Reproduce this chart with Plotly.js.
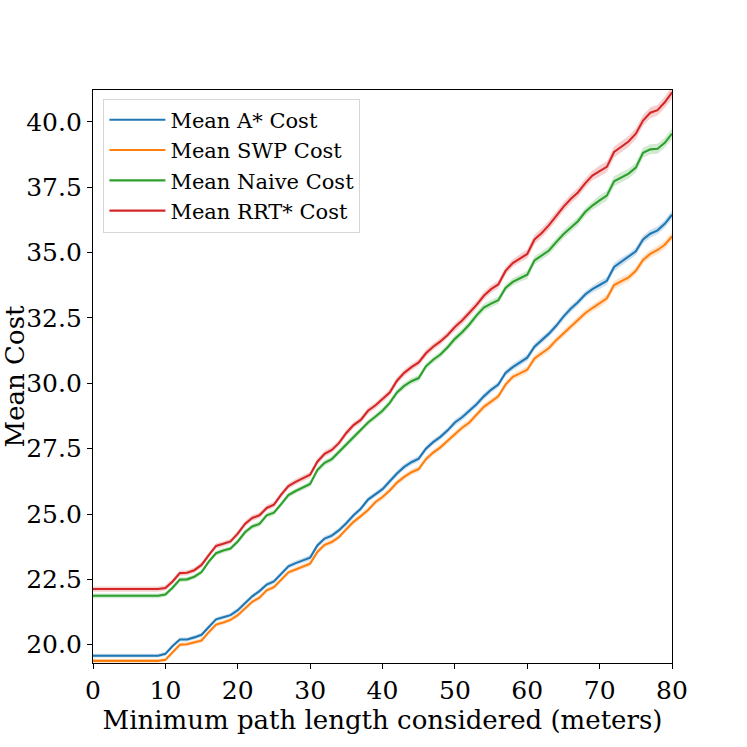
<!DOCTYPE html>
<html>
<head>
<meta charset="utf-8">
<script src="https://cdn.plot.ly/plotly-3.0.1.min.js"></script>
<style>html,body{margin:0;padding:0;background:#fff;}#chart{width:747px;height:747px;}</style>
</head>
<body>
<div id="chart"></div>
<script>
// Minimum path length considered (meters): 0..80
const pathLengths = [0,1,2,3,4,5,6,7,8,9,10,11,12,13,14,15,16,17,18,19,20,21,22,23,24,25,26,27,28,29,30,31,32,33,34,35,36,37,38,39,40,41,42,43,44,45,46,47,48,49,50,51,52,53,54,55,56,57,58,59,60,61,62,63,64,65,66,67,68,69,70,71,72,73,74,75,76,77,78,79,80];

const seriesNames = ["Mean A* Cost", "Mean SWP Cost", "Mean Naive Cost", "Mean RRT* Cost"];

const astarCost = [19.58,19.58,19.58,19.58,19.58,19.58,19.58,19.58,19.58,19.58,
  19.65,19.95,20.2,20.2,20.28,20.38,20.68,20.97,21.05,21.13,
  21.32,21.6,21.85,22.05,22.3,22.42,22.7,23.0,23.12,23.22,
  23.33,23.8,24.06,24.17,24.38,24.65,24.95,25.2,25.55,25.75,
  25.95,26.25,26.55,26.8,26.98,27.12,27.5,27.75,27.95,28.2,
  28.5,28.7,28.95,29.2,29.5,29.75,29.95,30.4,30.62,30.8,
  30.98,31.4,31.65,31.9,32.2,32.55,32.85,33.1,33.4,33.6,
  33.76,33.92,34.45,34.65,34.82,35.05,35.5,35.72,35.85,36.1,36.45];

const swpCost = [19.38,19.38,19.38,19.38,19.38,19.38,19.38,19.38,19.38,19.38,
  19.42,19.72,20.0,20.02,20.08,20.16,20.48,20.77,20.85,20.95,
  21.13,21.38,21.64,21.8,22.08,22.2,22.47,22.77,22.88,22.98,
  23.1,23.55,23.82,23.93,24.12,24.42,24.7,24.92,25.15,25.45,
  25.65,25.9,26.2,26.42,26.6,26.72,27.1,27.35,27.55,27.8,
  28.05,28.3,28.5,28.8,29.1,29.3,29.5,29.95,30.25,30.38,
  30.52,30.95,31.15,31.35,31.65,31.9,32.15,32.42,32.68,32.88,
  33.05,33.25,33.76,33.9,34.05,34.3,34.72,34.95,35.1,35.3,35.62];

const naiveCost = [21.87,21.87,21.87,21.87,21.87,21.87,21.87,21.87,21.87,21.87,
  21.92,22.18,22.49,22.5,22.6,22.78,23.18,23.5,23.6,23.68,
  23.95,24.3,24.52,24.62,24.95,25.05,25.38,25.72,25.88,26.0,
  26.15,26.68,26.96,27.1,27.38,27.68,27.95,28.2,28.5,28.72,
  28.95,29.25,29.65,29.9,30.08,30.2,30.65,30.9,31.1,31.38,
  31.7,31.95,32.25,32.6,32.9,33.05,33.18,33.65,33.88,34.02,
  34.15,34.7,34.88,35.08,35.4,35.7,35.95,36.2,36.55,36.8,
  37.0,37.18,37.73,37.88,38.02,38.25,38.82,38.95,38.97,39.2,39.55];

const rrtCost = [22.13,22.13,22.13,22.13,22.13,22.13,22.13,22.13,22.13,22.13,
  22.17,22.42,22.74,22.75,22.85,23.05,23.43,23.78,23.86,23.95,
  24.25,24.62,24.85,24.95,25.23,25.36,25.74,26.07,26.23,26.36,
  26.5,27.0,27.3,27.45,27.72,28.1,28.4,28.6,28.95,29.15,
  29.4,29.65,30.1,30.4,30.62,30.8,31.15,31.4,31.6,31.85,
  32.15,32.4,32.7,33.0,33.35,33.6,33.78,34.3,34.6,34.78,
  34.95,35.5,35.75,36.05,36.4,36.75,37.05,37.3,37.65,37.95,
  38.12,38.28,38.85,39.05,39.25,39.55,40.05,40.35,40.45,40.75,41.13];

// confidence band half-widths, one value per decade of path length (0-9, 10-19, ..., 80)
const astarBand = [0.07,0.08,0.09,0.10,0.11,0.12,0.13,0.15,0.16];
const swpBand   = [0.07,0.08,0.09,0.10,0.11,0.12,0.13,0.15,0.16];
const naiveBand = [0.09,0.09,0.10,0.11,0.12,0.14,0.16,0.19,0.21];
const rrtBand   = [0.10,0.10,0.11,0.12,0.13,0.15,0.18,0.21,0.24];

const yTickVals = [20.0,22.5,25.0,27.5,30.0,32.5,35.0,37.5,40.0];
const xTickVals = [0,10,20,30,40,50,60,70,80];

const colors = ["#1f77b4", "#ff7f0e", "#2ca02c", "#d62728"];
const fills = ["rgba(31,119,180,0.22)", "rgba(255,127,14,0.22)", "rgba(44,160,44,0.22)", "rgba(214,39,40,0.22)"];
const allSeries = [astarCost, swpCost, naiveCost, rrtCost];
const allBands = [astarBand, swpBand, naiveBand, rrtBand];

const traces = [];
allSeries.forEach((vals, i) => {
  const band = allBands[i];
  const lo = vals.map((v, k) => v - band[Math.floor(pathLengths[k] / 10)]);
  const hi = vals.map((v, k) => v + band[Math.floor(pathLengths[k] / 10)]);
  traces.push({x: pathLengths, y: lo, type: "scatter", mode: "lines", line: {width: 0, color: fills[i]}, showlegend: false, hoverinfo: "skip"});
  traces.push({x: pathLengths, y: hi, type: "scatter", mode: "lines", line: {width: 0, color: fills[i]}, fill: "tonexty", fillcolor: fills[i], showlegend: false, hoverinfo: "skip"});
});
allSeries.forEach((vals, i) => {
  traces.push({x: pathLengths, y: vals, type: "scatter", mode: "lines", name: seriesNames[i], line: {color: colors[i], width: 2.1}});
});

const serif = "DejaVu Serif";
const layout = {
  width: 747, height: 747,
  margin: {l: 93, r: 75, t: 90, b: 84},
  paper_bgcolor: "#fff", plot_bgcolor: "#fff",
  font: {family: serif, color: "#000"},
  showlegend: true,
  legend: {x: 0.018, y: 0.985, xanchor: "left", yanchor: "top", traceorder: "normal", itemwidth: 56, bgcolor: "rgba(255,255,255,0.8)", bordercolor: "#d6d6d6", borderwidth: 1, font: {family: serif, size: 21, color: "#000"}, tracegroupgap: 0},
  xaxis: {
    range: [0, 80], tickvals: xTickVals, ticktext: xTickVals.map(String),
    showgrid: false, zeroline: false, showline: true, linecolor: "#000", linewidth: 1.2, mirror: true,
    ticks: "outside", ticklen: 5, tickcolor: "#000", tickfont: {family: serif, size: 25, color: "#000"},
    title: {text: "Minimum path length considered (meters)", font: {family: serif, size: 26, color: "#000"}, standoff: 2}
  },
  yaxis: {
    range: [19.30, 41.22], tickvals: yTickVals, ticktext: yTickVals.map(v => v.toFixed(1)),
    showgrid: false, zeroline: false, showline: true, linecolor: "#000", linewidth: 1.2, mirror: true,
    ticks: "outside", ticklen: 5, tickcolor: "#000", tickfont: {family: serif, size: 25, color: "#000"},
    title: {text: "Mean Cost", font: {family: serif, size: 26, color: "#000"}, standoff: 8}
  }
};

Plotly.newPlot("chart", traces, layout, {displayModeBar: false, staticPlot: true});
</script>
</body>
</html>
